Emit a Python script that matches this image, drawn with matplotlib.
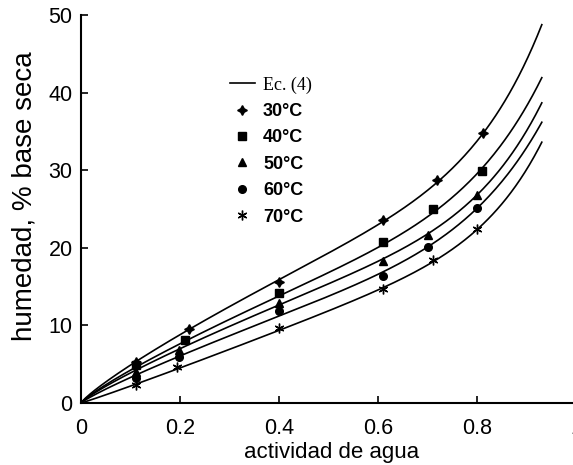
import matplotlib
matplotlib.use("Agg")
import matplotlib.pyplot as plt
from matplotlib.lines import Line2D
import numpy as np

plt.rcParams['font.family'] = ['Liberation Sans', 'DejaVu Sans']

# datos experimentales (actividad de agua, humedad % b.s.)
temps = ["30°C", "40°C", "50°C", "60°C", "70°C"]
aw_30 = [0.11, 0.218, 0.40, 0.61, 0.719, 0.812]
m_30 = [5.3, 9.5, 15.6, 23.6, 28.7, 34.8]
aw_40 = [0.11, 0.21, 0.40, 0.61, 0.711, 0.81]
m_40 = [4.9, 8.1, 14.2, 20.7, 25.0, 29.9]
aw_50 = [0.11, 0.197, 0.40, 0.61, 0.701, 0.80]
m_50 = [4.0, 6.8, 12.9, 18.3, 21.6, 26.8]
aw_60 = [0.11, 0.197, 0.40, 0.61, 0.701, 0.80]
m_60 = [3.2, 5.9, 11.9, 16.4, 20.1, 25.1]
aw_70 = [0.11, 0.193, 0.40, 0.61, 0.711, 0.80]
m_70 = [2.3, 4.6, 9.7, 14.7, 18.4, 22.4]

# parametros de la ecuacion (4): M = a*aw^b + c*aw^d
par_a = [34.6, 30.0, 27.5, 25.0, 24.5]
par_b = [0.85, 0.85, 0.85, 0.88, 1.05]
par_c = [28.1, 22.8, 22.2, 20.8, 20.3]
par_d = [7.57, 7.0, 7.56, 6.77, 8.56]
aw_max = 0.93

aw_data = [aw_30, aw_40, aw_50, aw_60, aw_70]
m_data = [m_30, m_40, m_50, m_60, m_70]
markers = [(4, 1, 0), 's', '^', 'o', (6, 2, 0)]
msizes = [7, 6, 6, 5.5, 7]

fig = plt.figure(figsize=(5.73, 4.65), dpi=100)
ax = fig.add_axes([81 / 573, 62 / 465, 495.5 / 573, 388 / 465])

aw = np.linspace(0, aw_max, 300)
for i in range(5):
    m = par_a[i] * aw ** par_b[i] + par_c[i] * aw ** par_d[i]
    ax.plot(aw, m, color='black', lw=1.2)
    ax.plot(aw_data[i], m_data[i], linestyle='none', marker=markers[i],
            ms=msizes[i], color='black', mew=1.0)

ax.set_xlim(0, 1)
ax.set_ylim(0, 50)
ax.set_xticks([0, 0.2, 0.4, 0.6, 0.8, 1])
ax.set_xticklabels(['0', '0.2', '0.4', '0.6', '0.8', '1'])
ax.set_yticks([0, 10, 20, 30, 40, 50])
ax.spines['top'].set_visible(False)
ax.spines['right'].set_visible(False)
for s in ['left', 'bottom']:
    ax.spines[s].set_linewidth(1.5)
ax.tick_params(direction='in', length=5, width=1.2, labelsize=15.5)
ax.tick_params(axis='y', pad=6)
ax.tick_params(axis='x', pad=11)
ax.set_xlabel('actividad de agua', fontsize=16)
ax.xaxis.set_label_coords(0.505, -0.128, transform=ax.transAxes)
ax.xaxis.label.set_va('center')
ax.set_ylabel('humedad, % base seca', fontsize=20)
ax.yaxis.set_label_coords(-0.115, 0.534, transform=ax.transAxes)
ax.yaxis.label.set_va('center')

handles = [Line2D([], [], color='black', lw=1.2)]
for i in range(5):
    handles.append(Line2D([], [], linestyle='none', marker=markers[i],
                          ms=msizes[i], color='black'))
labels = ['Ec. (4)'] + temps
leg = ax.legend(handles, labels, loc='upper left', bbox_to_anchor=(0.30, 0.842),
                frameon=False, fontsize=13, handlelength=1.4, handletextpad=0.45,
                labelspacing=0.52, borderpad=0, borderaxespad=0)
texts = leg.get_texts()
texts[0].set_family('Liberation Serif')
for t in texts[1:]:
    t.set_fontweight('bold')

fig.savefig('out.png', dpi=100)
